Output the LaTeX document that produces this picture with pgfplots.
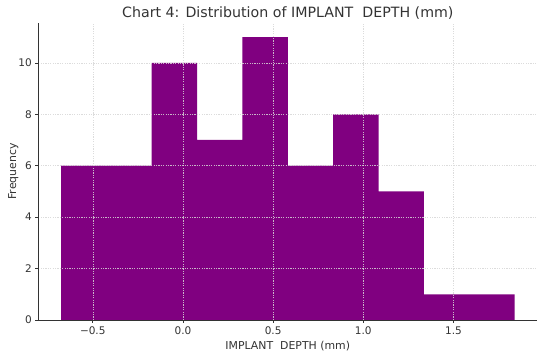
\documentclass[border=0pt]{standalone}
\usepackage{fontspec}
\setmainfont{DejaVu Sans}
\usepackage{pgfplots}
\pgfplotsset{compat=1.18}
\definecolor{mplpurple}{HTML}{800080}
\definecolor{txt}{HTML}{333333}
\begin{document}
\begin{tikzpicture}
\begin{axis}[
  at={(38.3pt,38pt)}, anchor=south west,
  scale only axis, width=499pt, height=297pt,
  xmin=-0.802, xmax=1.965, ymin=0, ymax=11.55,
  axis x line*=bottom, axis y line*=left,
  axis line style={-, draw=txt, line width=0.7pt},
  xtick={-0.5,0,0.5,1,1.5},
  xticklabels={−0.5,0.0,0.5,1.0,1.5},
  ytick={0,2,4,6,8,10},
  tick align=outside, major tick length=3pt,
  tick style={draw=txt, line width=0.6pt},
  tick label style={font=\fontsize{10.5}{12}\selectfont, text=txt},
  /pgf/number format/assume math mode=true,
  grid=major,
  major grid style={dash pattern=on 1.2pt off 1.2pt, draw=black!16, line width=0.45pt, opacity=0.85},
  axis on top,
  title={Chart 4: Distribution of IMPLANT\ \ DEPTH (mm)},
  title style={at={(axis description cs:0.5,1)}, anchor=center, yshift=4pt, font=\fontsize{14.2}{16}\selectfont, text=txt},
  xlabel={IMPLANT\ \ DEPTH (mm)},
  xlabel style={at={(axis description cs:0.5,0)}, anchor=center, yshift=-25.6pt, font=\fontsize{10.9}{12}\selectfont, text=txt},
  ylabel={Frequency},
  ylabel style={at={(axis description cs:0,0.5)}, anchor=center, yshift=25pt, font=\fontsize{10.9}{12}\selectfont, text=txt},
]
\addplot[ybar interval=1, fill=mplpurple, draw=none] coordinates {
  (-0.676,6) (-0.4245,6) (-0.173,10) (0.0785,7) (0.330,11) (0.5815,6)
  (0.833,8) (1.0845,5) (1.336,1) (1.5875,1) (1.839,1)
};
\end{axis}
\pgfresetboundingbox
\useasboundingbox (0,0) rectangle (550pt,358pt);
\end{tikzpicture}
\end{document}
